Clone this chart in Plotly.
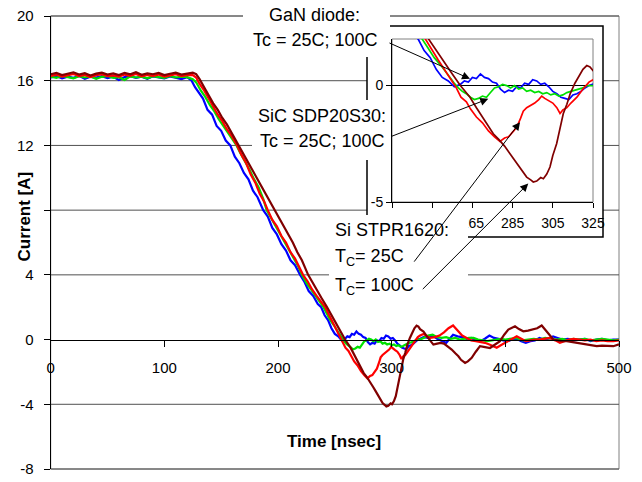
import plotly.graph_objects as go

# ---------------- data ----------------
plateau_t = [0, 5, 10, 15, 20, 25, 30, 35, 40, 45, 50, 55, 60, 65, 70, 75, 80, 85, 90, 95, 100, 105, 110, 115, 120]

gan_t = plateau_t + [124, 127, 130, 134, 138, 142, 146, 150, 154, 158, 162, 166, 170, 174, 178, 182, 187, 191, 195, 199,
                     203, 207, 211, 215, 219.5, 223, 227, 231, 235, 238, 241, 244, 247, 250, 253, 256, 259, 261, 263, 265,
                     267, 269, 271, 273, 275, 277, 279, 281, 283, 285, 287, 289, 291, 293, 295, 297, 299, 301, 303, 305,
                     307, 309, 311, 313, 315, 317, 319, 321, 323, 325, 328, 332, 336, 340, 344, 348, 351, 354, 358, 362,
                     366, 370, 374, 378, 382, 386, 390, 394, 398, 402, 406, 410, 414, 418, 422, 426, 430, 434, 438, 442,
                     446, 450, 455, 460, 465, 470, 475, 480, 485, 490, 495, 500]
gan_i = [16.20, 16.28, 16.15, 16.25, 16.18, 16.30, 16.12, 16.24, 16.20, 16.28, 16.16, 16.25, 16.05, 16.22, 16.28, 16.18,
         16.25, 16.12, 16.27, 16.20, 16.15, 16.26, 16.20, 16.10, 16.22,
         16.0, 15.6, 15.3, 14.9, 14.2, 13.9, 13.2, 12.9, 12.3, 12.0, 11.3, 10.9, 10.3, 9.9, 9.2, 8.8, 8.0, 7.6, 6.9, 6.5,
         5.9, 5.5, 4.9, 4.6, 4.0, 3.6, 3.0, 2.7, 2.2, 2.0, 1.5, 1.2, 0.7, 0.35, 0.2, -0.05, 0.05, 0.2, 0.15, 0.35,
         0.3, 0.5, 0.35, 0.3, 0.15, 0.1, -0.15, -0.3, -0.2, -0.25, -0.05, -0.1, 0.1, 0.05, 0.25, 0.2, 0.05, 0.1, -0.05, -0.25,
         -0.35, -0.5, -0.55, -0.6, -0.4, -0.35, -0.25, -0.1, 0.0, 0.05, 0.15, 0.1, 0.25, 0.05, -0.1, -0.2, 0.05, 0.3, 0.2, 0.15,
         0.05, 0.1, -0.05, -0.1, 0.05, 0.25, 0.1, 0.05, -0.05, -0.1, 0.0, 0.05, -0.1, -0.2, -0.1, -0.05, 0.1, 0.0, 0.05, 0.2,
         0.1, 0.0, 0.05, -0.05, 0.0, 0.05, -0.1, 0.0, 0.05, -0.05, 0.0, 0.0]

sic_t = plateau_t + [125, 128, 132, 136, 140, 144, 148, 152, 156, 160, 163.5, 167, 171, 175, 179, 183, 187, 190, 194, 198,
                     202, 206, 210, 214, 218, 221, 225, 229, 233, 237, 240, 243, 246, 249, 252, 254, 256, 258, 260, 262,
                     264, 266, 268, 270, 272, 274, 276, 278, 280, 282, 284, 286, 288, 290, 292, 294, 296, 298, 300, 302,
                     304, 306, 308, 310, 312, 314, 316, 318, 320, 322, 325, 328, 332, 336, 340, 344, 348, 352, 356, 360,
                     364, 368, 372, 376, 380, 384, 388, 392, 396, 400, 405, 410, 415, 420, 425, 430, 435, 440, 445, 450,
                     455, 460, 465, 470, 475, 480, 485, 490, 495, 500]
sic_i = [16.25, 16.18, 16.30, 16.22, 16.15, 16.28, 16.20, 16.26, 16.12, 16.24, 16.30, 16.18, 16.22, 16.05, 16.27, 16.20,
         16.25, 16.15, 16.28, 16.22, 16.18, 16.30, 16.20, 16.25, 16.22,
         16.1, 15.9, 15.4, 15.0, 14.5, 14.1, 13.6, 13.2, 12.8, 12.4, 12.0, 11.5, 11.0, 10.5, 9.9, 9.4, 8.7, 8.0, 7.5, 7.0,
         6.5, 6.0, 5.5, 5.0, 4.5, 4.0, 3.5, 3.1, 2.7, 2.3, 2.0, 1.6, 1.2, 0.9, 0.55, 0.3, 0.1, -0.1, -0.25, -0.35,
         -0.5, -0.6, -0.55, -0.45, -0.5, -0.3, -0.1, -0.05, 0.05, 0.0, -0.1, 0.0, -0.15, -0.1, -0.25, -0.2, -0.3, -0.25, -0.35, -0.3,
         -0.4, -0.35, -0.45, -0.4, -0.3, -0.25, -0.2, -0.15, -0.1, 0.0, 0.0, 0.1, 0.25, 0.3, 0.15, 0.1, 0.15, 0.05, 0.1, 0.0,
         0.05, 0.1, 0.1, 0.0, -0.05, -0.1, -0.05, 0.0, 0.05, 0.0, 0.05, 0.1, -0.05, 0.0, 0.05, 0.0, 0.1, 0.05, 0.0, 0.05,
         -0.05, 0.05, 0.0, 0.05, -0.05, 0.0, 0.05, 0.0, -0.05, 0.0]

si25_t = plateau_t + [125, 128, 131, 135, 139, 143, 147, 151, 155, 159, 164, 168, 172, 176, 180, 184, 188, 191, 195, 199,
                      203, 207, 211, 215, 219, 222, 226, 230, 234, 238, 241.6, 245, 248, 251, 254, 257, 259.3, 262, 264, 267,
                      270, 273, 276, 278.7, 281, 283, 285, 287, 289, 290.3, 292, 294, 296, 298, 299.5, 301, 303, 305, 307, 308.6,
                      310, 312, 314, 317, 320, 323, 325, 328, 331, 334, 338, 342, 346, 350, 354, 358, 362, 366, 370, 374,
                      378, 382, 386, 390, 392.4, 396, 400, 404, 408, 410, 414, 418, 422, 426, 430, 434, 439, 444, 448, 452,
                      456, 460, 465, 470, 475, 480, 485, 490, 495, 500]
si25_i = [16.30, 16.38, 16.25, 16.35, 16.42, 16.28, 16.36, 16.22, 16.34, 16.40, 16.28, 16.33, 16.25, 16.38, 16.30, 16.42,
          16.27, 16.35, 16.30, 16.38, 16.25, 16.33, 16.40, 16.28, 16.35,
          16.35, 16.2, 15.8, 15.4, 14.9, 14.4, 13.9, 13.5, 13.0, 12.6, 12.0, 11.4, 10.9, 10.2, 9.7, 9.0, 8.5, 8.0, 7.4, 7.0,
          6.4, 6.0, 5.4, 5.0, 4.4, 4.0, 3.6, 3.1, 2.7, 2.3, 2.0, 1.5, 1.1, 0.7, 0.3, -0.1, -0.5, -0.7, -1.0, -1.35,
          -1.6, -1.95, -2.2, -2.4, -2.25, -2.2, -2.0, -1.8, -1.4, -1.1, -0.95, -0.85, -0.75, -0.6, -0.45, -0.55, -0.65, -0.75, -0.95, -1.2,
          -1.05, -0.95, -0.75, -0.5, -0.15, 0.15, 0.25, 0.35, 0.2, 0.1, 0.15, 0.25, 0.45, 0.7, 0.87, 0.55, 0.25, 0.1, -0.05, -0.1,
          -0.15, -0.2, -0.3, -0.45, -0.5, -0.35, -0.2, 0.0, 0.15, 0.2, 0.05, -0.1, -0.05, 0.0, 0.0, 0.05, 0.1, -0.05, -0.2, -0.1,
          0.0, 0.05, 0.0, -0.05, 0.0, -0.1, -0.05, -0.1, -0.1, -0.05]

si100_t = plateau_t + [125, 128, 131, 135, 139, 143, 147, 151, 155, 159, 165, 169, 173, 177, 181, 185, 189, 193, 197.5, 201,
                       205, 209, 213, 217, 221, 226.5, 230, 234, 238, 243.2, 247, 251, 255, 259, 263.8, 267, 270, 273, 275.4, 278,
                       281, 283.7, 286, 289, 292, 294, 295.3, 297, 299, 300.3, 302, 303.6, 305, 306.9, 308.5, 310.2, 312, 313.6, 316, 318.5,
                       320, 321.9, 323.5, 325, 328, 331, 334, 336.7, 340, 343, 346, 349, 352.8, 356, 358.7, 361, 364.6, 367, 370.4, 374,
                       377.7, 381, 384, 386.5, 390, 395.3, 399, 402.6, 405, 408.5, 412, 415.8, 420, 424.6, 428, 432, 436.4, 440, 442.2, 446,
                       450, 454, 458, 462, 465.7, 470, 475, 480.4, 485, 490, 495, 500]
si100_i = [16.40, 16.48, 16.35, 16.45, 16.52, 16.38, 16.46, 16.32, 16.44, 16.50, 16.38, 16.45, 16.35, 16.48, 16.40, 16.52,
           16.37, 16.45, 16.40, 16.48, 16.35, 16.43, 16.50, 16.38, 16.45,
           16.5, 16.4, 16.1, 15.6, 15.1, 14.6, 14.2, 13.7, 13.3, 12.8, 12.0, 11.5, 11.0, 10.5, 10.0, 9.5, 9.0, 8.5, 8.0, 7.5,
           7.0, 6.5, 6.0, 5.4, 4.9, 4.0, 3.6, 3.1, 2.6, 2.0, 1.5, 1.0, 0.5, 0.0, -0.5, -0.95, -1.35, -1.75, -2.07, -2.3,
           -2.6, -2.93, -3.2, -3.55, -3.93, -4.05, -4.14, -4.1, -3.95, -4.0, -3.8, -3.5, -3.0, -2.5, -1.9, -1.21, -0.8, -0.36, 0.1, 0.5,
           0.7, 0.86, 0.8, 0.64, 0.5, 0.2, -0.1, -0.31, -0.25, -0.2, -0.25, -0.4, -0.62, -0.85, -1.03, -1.25, -1.44, -1.35, -1.13, -0.75,
           -0.41, -0.45, -0.5, -0.52, -0.35, -0.1, 0.3, 0.62, 0.7, 0.82, 0.65, 0.51, 0.55, 0.62, 0.7, 0.87, 0.51, 0.2, 0.0, -0.05,
           -0.1, -0.1, -0.15, -0.2, -0.21, -0.3, -0.35, -0.41, -0.38, -0.4, -0.41, -0.3]

series = [
    ("GaN diode", gan_t, gan_i, "#0000FF"),
    ("SiC SDP20S30", sic_t, sic_i, "#00E000"),
    ("Si STPR1620 25C", si25_t, si25_i, "#FF0000"),
    ("Si STPR1620 100C", si100_t, si100_i, "#800000"),
]

x_ticks_main = [0, 100, 200, 300, 400, 500]
y_ticks_main = [-8, -4, 0, 4, 8, 12, 16, 20]
y_labels_main = ["-8", "-4", "0", "4", "", "12", "16", "20"]   # "8" is hidden behind the axis title
x_ticks_inset = [225, 245, 265, 285, 305, 325]
x_labels_inset = ["", "", "265", "285", "305", "325"]          # first two hidden under the label box
y_ticks_inset = [-5, 0]
y_labels_inset = ["-5", "0"]

# ---------------- layout helpers ----------------
W, H = 642, 482
FONT = "Arial, Liberation Sans, sans-serif"


def px(x):
    return x / W


def py(y):
    return 1 - y / H


main_x = [px(50.7), px(619)]
main_y = [py(469), py(16)]
ins_x = [px(392), px(593)]
ins_y = [py(202), py(39)]
Y0, Y1 = -8, 20


def main_yp(v):
    return main_y[0] + (v - Y0) / (Y1 - Y0) * (main_y[1] - main_y[0])


fig = go.Figure()
for name, t, i, c in series:
    fig.add_trace(go.Scatter(x=t, y=i, mode="lines", name=name,
                             line=dict(color=c, width=2.2), xaxis="x", yaxis="y"))
for name, t, i, c in series:
    fig.add_trace(go.Scatter(x=t, y=i, mode="lines", name=name,
                             line=dict(color=c, width=1.7), xaxis="x2", yaxis="y2"))

shapes = []
# main plot-area border (grey)
shapes.append(dict(type="rect", xref="paper", yref="paper", layer="below",
                   x0=main_x[0], x1=main_x[1], y0=main_y[0], y1=main_y[1],
                   line=dict(color="#808080", width=1)))
# main horizontal gridlines
for v in y_ticks_main:
    if v == 0:
        continue
    shapes.append(dict(type="line", xref="paper", yref="paper", layer="below",
                       x0=main_x[0], x1=main_x[1], y0=main_yp(v), y1=main_yp(v),
                       line=dict(color="#505050", width=1)))
# inset chart frame
shapes.append(dict(type="rect", xref="paper", yref="paper", layer="below",
                   x0=px(367), x1=px(603), y0=py(237), y1=py(26),
                   fillcolor="white", line=dict(color="black", width=1.5)))
# inset plot area border
shapes.append(dict(type="rect", xref="paper", yref="paper", layer="below",
                   x0=ins_x[0], x1=ins_x[1], y0=ins_y[0], y1=ins_y[1],
                   line=dict(color="#808080", width=1)))
# white label boxes
for (x0, y0, x1, y1) in [(243, 0, 390, 57), (252, 100, 390, 160), (329, 215, 468, 300)]:
    shapes.append(dict(type="rect", xref="paper", yref="paper", layer="above",
                       x0=px(x0), x1=px(x1), y0=py(y1), y1=py(y0),
                       fillcolor="white", line=dict(width=0)))

ann = []


def text(x, y, s, xanchor="center", size=18, angle=0):
    ann.append(dict(xref="paper", yref="paper", x=px(x), y=py(y), text=s, showarrow=False,
                    xanchor=xanchor, yanchor="middle", textangle=angle,
                    font=dict(family=FONT, size=size, color="black")))


text(314, 15, "GaN diode:")
text(315, 40, "Tc = 25C; 100C")
text(321.5, 115.5, "SiC SDP20S30:")
text(322.5, 140.5, "Tc = 25C; 100C")
text(333, 229.5, "Si STPR1620:", xanchor="left")
text(333, 257, "T<sub>C</sub>= 25C", xanchor="left")
text(333, 286, "T<sub>C</sub>= 100C", xanchor="left")
text(334, 441, "<b>Time [nsec]</b>", size=17)
text(24.5, 217, "<b>Current [A]</b>", size=17, angle=-90)

# arrows (tip on the inset curves, tail at label end)
for (tx, ty, ax, ay) in [(263.8, 0.29, -82, -36.5), (272.9, -0.57, -98, 38),
                         (288.7, -1.57, -107, 141), (292.8, -4.21, -107, 107)]:
    ann.append(dict(xref="x2", yref="y2", x=tx, y=ty, ax=ax, ay=ay, axref="pixel", ayref="pixel",
                    text="", showarrow=True, arrowhead=2, arrowsize=1.6, arrowwidth=1,
                    arrowcolor="black"))

tickfont = dict(family=FONT, size=15, color="black")
small = dict(family=FONT, size=14, color="black")
fig.update_layout(
    width=W, height=H, margin=dict(l=0, r=0, t=0, b=0, autoexpand=False),
    paper_bgcolor="white", plot_bgcolor="rgba(0,0,0,0)",
    showlegend=False,
    shapes=shapes, annotations=ann,
    xaxis=dict(domain=main_x, range=[0, 500], tickvals=x_ticks_main,
               ticktext=[str(v) for v in x_ticks_main], anchor="free",
               position=main_yp(0), showline=True, linecolor="black", linewidth=1,
               ticks="outside", ticklen=6, tickcolor="black", showgrid=False, zeroline=False,
               tickfont=tickfont, ticklabelstandoff=8, automargin=False),
    yaxis=dict(domain=main_y, range=[Y0, Y1], tickvals=y_ticks_main, ticktext=y_labels_main,
               anchor="x", showline=True, linecolor="black", linewidth=1, ticks="outside", ticklen=6,
               tickcolor="black", showgrid=False, zeroline=False, tickfont=tickfont,
               ticklabelstandoff=7, automargin=False),
    xaxis2=dict(domain=ins_x, range=[225, 325], tickvals=x_ticks_inset, ticktext=x_labels_inset,
                anchor="y2", showline=True, linecolor="black", linewidth=1, ticks="outside", ticklen=5,
                tickcolor="black", showgrid=False, zeroline=False, tickfont=small, automargin=False,
                ticklabelstandoff=3),
    yaxis2=dict(domain=ins_y, range=[-5, 2], tickvals=y_ticks_inset, ticktext=y_labels_inset,
                anchor="x2", showline=True, linecolor="black", linewidth=1, ticks="outside", ticklen=5,
                tickcolor="black", showgrid=True, gridcolor="black", gridwidth=1, zeroline=False,
                tickfont=small, automargin=False),
)

fig.write_html("out.html", config={"displayModeBar": False},
               post_script="document.body.style.margin='0';")
